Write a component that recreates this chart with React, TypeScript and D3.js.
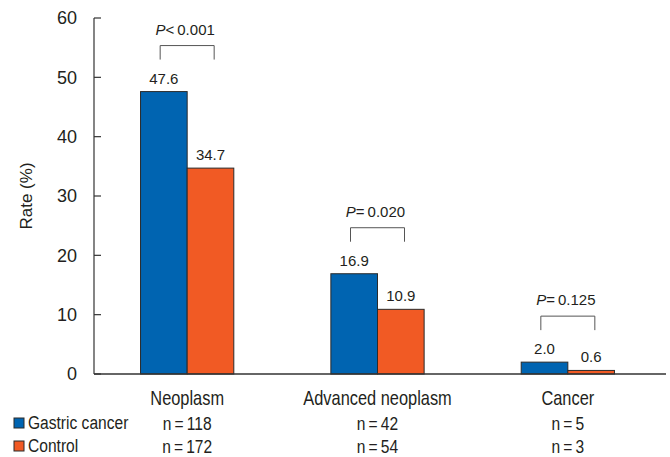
import * as d3 from "d3";

const categories = ["Neoplasm", "Advanced neoplasm", "Cancer"];
const groups = ["Gastric cancer", "Control"];
const gastricRates = [47.6, 16.9, 2.0];
const controlRates = [34.7, 10.9, 0.6];
const gastricN = [118, 42, 5];
const controlN = [172, 54, 3];
const pOps = ["<", "=", "="];
const pValues = ["0.001", "0.020", "0.125"];
const yTicks = [0, 10, 20, 30, 40, 50, 60];

const colors: Record<string, string> = {
  "Gastric cancer": "#0064b1",
  Control: "#f15a24",
};

const regular = '"Liberation Sans", Arial, sans-serif';
const ink = "#231f20";

// no condensed face installed, so squeeze the regular one horizontally
function NarrowText({
  x,
  y,
  size,
  anchor = "start",
  children,
}: {
  x: number;
  y: number;
  size: number;
  anchor?: string;
  children: string;
}) {
  return (
    <text
      transform={`translate(${x},${y}) scale(0.82,1)`}
      fontSize={size}
      fontFamily={regular}
      textAnchor={anchor}
      fill={ink}
    >
      {children}
    </text>
  );
}

export default function App() {
  const width = 670;
  const height = 457;

  const x = d3
    .scaleBand<string>()
    .domain(categories)
    .range([92, 663])
    .paddingInner(0.51)
    .paddingOuter(0.255);
  const xSub = d3.scaleBand<string>().domain(groups).range([0, x.bandwidth()]);
  const y = d3.scaleLinear().domain([0, 60]).range([374, 18]);

  const axisX = 94;
  const fmt = d3.format(".1f");

  const rows = categories.map((c, i) => ({
    category: c,
    values: [
      { group: groups[0], value: gastricRates[i] },
      { group: groups[1], value: controlRates[i] },
    ],
  }));

  return (
    <svg
      width={width}
      height={height}
      style={{ position: "absolute", left: 0, top: 0, background: "#fff" }}
    >
      {/* y axis */}
      <line x1={axisX} x2={axisX} y1={y(60)} y2={y(0)} stroke="#333" strokeWidth={1.2} />
      {yTicks.map((t) => (
        <g key={t}>
          <line x1={axisX} x2={axisX + 7} y1={y(t)} y2={y(t)} stroke="#333" strokeWidth={1.2} />
          <text
            x={77}
            y={y(t)}
            dy="0.35em"
            textAnchor="end"
            fontSize={18}
            fontFamily={regular}
            fill={ink}
          >
            {t}
          </text>
        </g>
      ))}
      <text
        transform="translate(32,196) rotate(-90)"
        textAnchor="middle"
        fontSize={17}
        fontFamily={regular}
        fill={ink}
      >
        Rate (%)
      </text>

      {/* bars */}
      {rows.map((r) => (
        <g key={r.category} transform={`translate(${x(r.category)},0)`}>
          {r.values.map((v) => (
            <g key={v.group}>
              <rect
                x={xSub(v.group)}
                y={y(v.value)}
                width={xSub.bandwidth()}
                height={y(0) - y(v.value)}
                fill={colors[v.group]}
                stroke="#2b2b2b"
                strokeWidth={1}
              />
              <text
                x={(xSub(v.group) ?? 0) + xSub.bandwidth() / 2}
                y={y(v.value) - 8}
                textAnchor="middle"
                fontSize={15}
                fontFamily={regular}
                fill={ink}
              >
                {fmt(v.value)}
              </text>
            </g>
          ))}
        </g>
      ))}

      {/* x axis */}
      <line x1={axisX} x2={666} y1={y(0)} y2={y(0)} stroke="#333" strokeWidth={1.4} />

      {/* significance brackets */}
      {rows.map((r, i) => {
        const cx = (x(r.category) ?? 0) + x.bandwidth() / 2;
        const top = y(d3.max(r.values, (d) => d.value) ?? 0) - 46;
        return (
          <g key={r.category}>
            <path
              d={`M${cx - 27},${top + 14}V${top}H${cx + 27}V${top + 14}`}
              fill="none"
              stroke="#555"
              strokeWidth={1}
            />
            <text
              x={cx - 2}
              y={top - 11}
              textAnchor="middle"
              fontSize={15}
              fontFamily={regular}
              fill={ink}
            >
              <tspan fontStyle="italic">P</tspan>
              {`${pOps[i]}\u2009${pValues[i]}`}
            </text>
          </g>
        );
      })}

      {/* category labels and n */}
      {categories.map((c, i) => {
        const cx = (x(c) ?? 0) + x.bandwidth() / 2;
        return (
          <g key={c}>
            <NarrowText x={cx} y={405} size={20} anchor="middle">
              {c}
            </NarrowText>
            <NarrowText x={cx} y={430} size={19} anchor="middle">
              {`n\u2009=\u2009${gastricN[i]}`}
            </NarrowText>
            <NarrowText x={cx} y={453} size={19} anchor="middle">
              {`n\u2009=\u2009${controlN[i]}`}
            </NarrowText>
          </g>
        );
      })}

      {/* legend */}
      {groups.map((g, i) => (
        <g key={g}>
          <rect
            x={14}
            y={418 + i * 23}
            width={10}
            height={10}
            fill={colors[g]}
            stroke="#2b2b2b"
            strokeWidth={1}
          />
          <NarrowText x={28} y={429 + i * 23} size={19}>
            {g}
          </NarrowText>
        </g>
      ))}
    </svg>
  );
}
